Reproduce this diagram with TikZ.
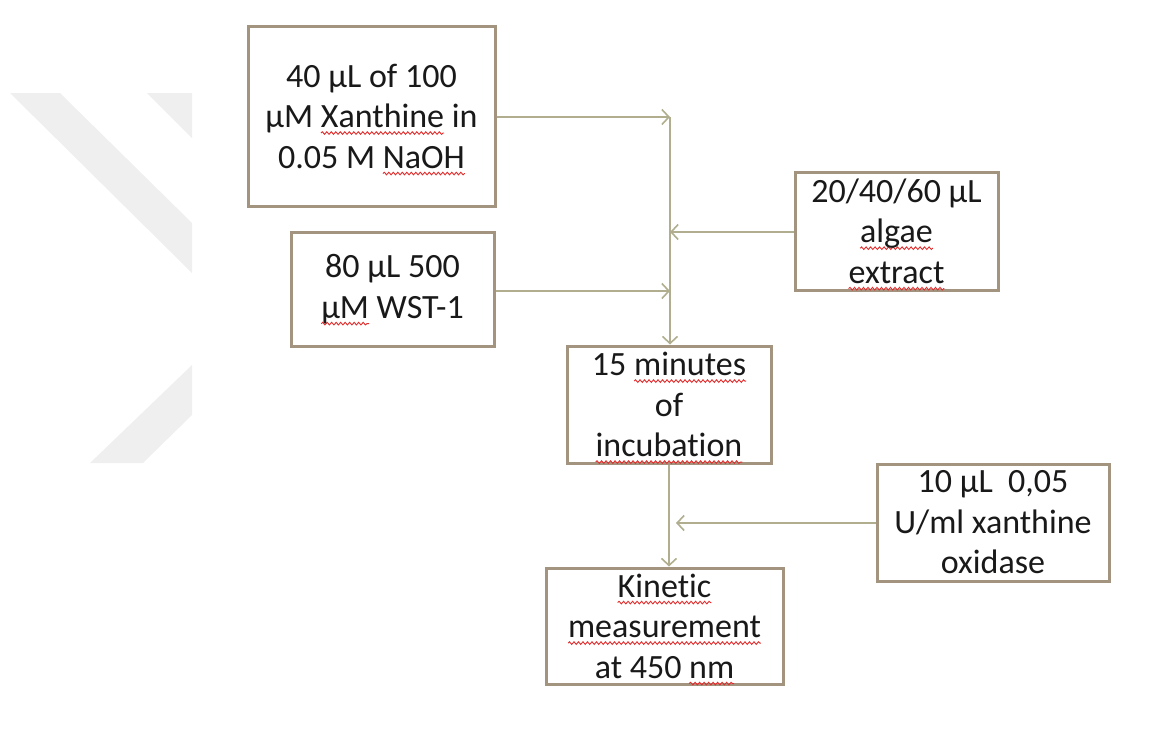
\documentclass[tikz,border=0pt]{standalone}
\usepackage{fontspec}
\setmainfont{Carlito}[Ligatures=NoCommon]
\usetikzlibrary{arrows.meta,decorations.pathmorphing}
\definecolor{boxline}{RGB}{163,148,128}
\definecolor{arrline}{RGB}{176,174,142}
\definecolor{wm}{RGB}{239,239,239}
\definecolor{txt}{RGB}{25,25,25}
\definecolor{squig}{RGB}{225,45,45}
\newcommand\sq[1]{\setbox0\hbox{#1}\rlap{\tikz[overlay,x=1pt,y=1pt]\draw[squig,line width=0.9pt,decorate,decoration={snake,amplitude=1.3pt,segment length=4.5pt}] (0,-5.5) -- (\the\wd0,-5.5);}\box0{}}
\tikzset{
  stepbox/.style={draw=boxline, line width=3pt, fill=white, inner sep=0pt,
    align=center, text=txt, font=\fontsize{34}{40.5}\selectfont},
  arr/.style={draw=arrline, line width=1.6pt,
    -{Straight Barb[length=7pt,width=15pt,line width=1.6pt]}},
}
\begin{document}
\begin{tikzpicture}[x=1pt,y=-1pt]
\useasboundingbox (0,0) rectangle (1168,742);
% watermark
\fill[wm] (10,93) -- (60,93) -- (192,223) -- (192,273) -- cycle;
\fill[wm] (147,93) -- (192,93) -- (192,138) -- cycle;
\fill[wm] (192,365) -- (192,415) -- (143,463) -- (90,463) -- cycle;
% boxes
\node[stepbox, minimum width=247pt, minimum height=180pt] (xan) at (371.5,116)
  {40 µL of 100\\µM \sq{Xanthine} in\\0.05 M \sq{NaOH}};
\node[stepbox, minimum width=203pt, minimum height=114pt] (wst) at (392.5,289)
  {80 µL 500\\\sq{µM} WST-1};
\node[stepbox, minimum width=203pt, minimum height=118pt] (alg) at (896.5,231)
  {20/40/60 µL\\\sq{algae}\\\sq{extract}};
\node[stepbox, minimum width=204pt, minimum height=117pt] (inc) at (669,404.5)
  {15 \sq{minutes}\\of\\\sq{incubation}};
\node[stepbox, minimum width=232pt, minimum height=117pt] (ox) at (993,522.5)
  {10 µL\ \ 0,05\\U/ml xanthine\\oxidase};
\node[stepbox, minimum width=237pt, minimum height=116pt] (kin) at (664.5,626)
  {\sq{Kinetic}\\\sq{measurement}\\at 450 \sq{nm}};
% junctions
\coordinate (j1) at (670,117);
\coordinate (j2) at (670,232);
\coordinate (j3) at (670,291);
\coordinate (j4) at (676,523);
% connectors
\draw[arr] (j1) -- (j1 |- inc.north);
\draw[arr] (xan.east |- j1) -- (j1);
\draw[arr] (alg.west |- j2) -- (j2);
\draw[arr] (wst.east |- j3) -- (j3);
\draw[arr] (inc.south) -- (inc.south |- kin.north);
\draw[arr] (ox.west |- j4) -- (j4);
\end{tikzpicture}
\end{document}
